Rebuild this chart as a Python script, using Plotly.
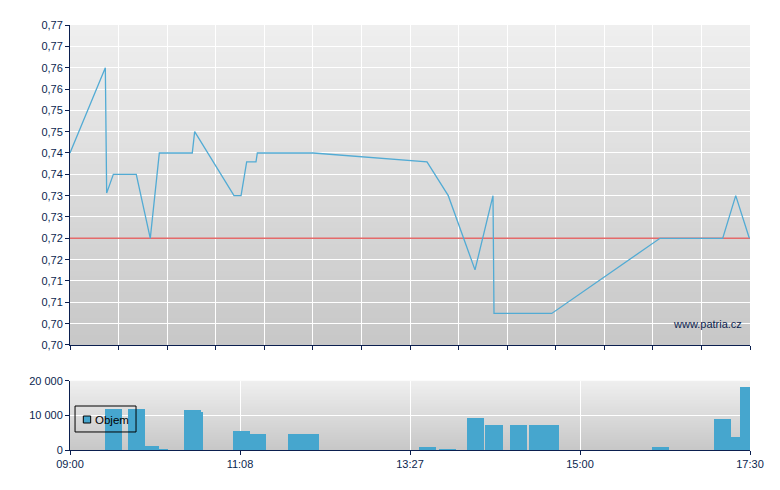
import plotly.graph_objects as go

# ---- data (x in session units: 0 = 09:00 ... 510 = 17:30 on the chart's scale) ----
price_x = [0, 26.5, 27.5, 32.5, 49.7, 60.2, 67, 91.7, 93.5, 123, 128.3, 132.5, 139.5,
           140.5, 182.5, 267.75, 283.7, 303.75, 317.25, 318, 361.3, 442.5, 489.5, 499.3, 509.5]
price_y = [0.745, 0.765, 0.7356, 0.740, 0.740, 0.725, 0.745, 0.745, 0.750, 0.735, 0.735,
           0.7429, 0.7429, 0.745, 0.745, 0.7429, 0.735, 0.7176, 0.735, 0.7074, 0.7074,
           0.725, 0.725, 0.735, 0.725]
prev_close = 0.725

vol_start = [26.25, 43.5, 56.25, 66.75, 85.5, 98.25, 122.25, 135, 163.5, 261.75, 276.75,
             297.75, 311.25, 330, 344.25, 436.5, 483, 495.75, 502.5]
vol_end = [39, 56.25, 66.75, 73.5, 98.25, 99.75, 135, 147, 186.75, 274.5, 289.5,
           310.5, 324.75, 342.75, 366.75, 449.25, 495.75, 502.5, 510]
vol_val = [11800, 11800, 1150, 300, 11500, 11200, 5500, 4600, 4600, 900, 300,
           9200, 7200, 7200, 7200, 900, 8900, 3750, 18200]

price_ticks = [0.700, 0.705, 0.710, 0.715, 0.720, 0.725, 0.730, 0.735, 0.740, 0.745,
               0.750, 0.755, 0.760, 0.765, 0.770, 0.775]
price_labels = ["0,70", "0,70", "0,71", "0,71", "0,72", "0,72", "0,73", "0,73", "0,74",
                "0,74", "0,75", "0,75", "0,76", "0,76", "0,77", "0,77"]
time_ticks = [0, 127.5, 255, 382.5, 510]
time_labels = ["09:00", "11:08", "13:27", "15:00", "17:30"]
vol_ticks = [0, 10000, 20000]
vol_labels = ["0", "10 000", "20 000"]
X_MAX = 510

NAVY = "#0b1f4f"
FONT = "Liberation Sans, Arial, sans-serif"

fig = go.Figure()

fig.add_trace(go.Scatter(x=[0, X_MAX], y=[prev_close, prev_close], mode="lines",
                         line=dict(color="#e46a6a", width=1.6), hoverinfo="skip",
                         showlegend=False, xaxis="x", yaxis="y"))
fig.add_trace(go.Scatter(x=price_x, y=price_y, mode="lines",
                         line=dict(color="#52abd4", width=1.3), showlegend=False,
                         xaxis="x", yaxis="y"))

centers = [(s + e) / 2 for s, e in zip(vol_start, vol_end)]
widths = [e - s for s, e in zip(vol_start, vol_end)]
fig.add_trace(go.Bar(x=centers, y=vol_val, width=widths, marker=dict(color="#46a6ce", line=dict(width=0)),
                     name="Objem", showlegend=False, xaxis="x2", yaxis="y2"))

# gradient backgrounds (each band runs to the bottom, so later bands cover seams)
shapes = []
N = 60
c_top, c_bot = 239, 199
for ax in ("", "2"):
    for i in range(N):
        f = (i + 0.5) / N
        c = round(c_top + (c_bot - c_top) * f)
        shapes.append(dict(type="rect", xref=f"x{ax} domain", yref=f"y{ax} domain",
                           x0=0, x1=1, y0=1 - i / N, y1=0,
                           fillcolor=f"rgb({c},{c},{c})", line=dict(width=0), layer="below"))

# legend box (manual)
shapes.append(dict(type="rect", xref="paper", yref="paper", x0=0.0074, x1=0.0971,
                   y0=0.0424, y1=0.1035, line=dict(color="black", width=1),
                   fillcolor="rgba(0,0,0,0)", layer="above"))
shapes.append(dict(type="rect", xref="paper", yref="paper", x0=0.0196, x1=0.0304,
                   y0=0.0635, y1=0.080, line=dict(color="black", width=1),
                   fillcolor="#46a6ce", layer="above"))

common = dict(ticks="outside", ticklen=4, tickcolor=NAVY, showgrid=True, gridcolor="white",
              gridwidth=1, showline=True, linecolor=NAVY, linewidth=1, zeroline=False,
              automargin=False)

fig.update_layout(
    width=764, height=472,
    margin=dict(l=62, r=22, t=17, b=30, autoexpand=False),
    paper_bgcolor="white", plot_bgcolor="rgba(0,0,0,0)",
    font=dict(family=FONT, size=11, color=NAVY),
    separators=", ",
    showlegend=False,
    bargap=0,
    shapes=shapes,
    xaxis=dict(domain=[0, 1], anchor="y", range=[0, X_MAX], tick0=0, dtick=X_MAX / 14,
               showticklabels=False, **common),
    yaxis=dict(domain=[0.2471, 1], anchor="x", range=[0.700, 0.775], tickmode="array",
               tickvals=price_ticks, ticktext=price_labels, **common),
    xaxis2=dict(domain=[0, 1], anchor="y2", range=[0, X_MAX], tickmode="array",
                tickvals=time_ticks, ticktext=time_labels, **common),
    yaxis2=dict(domain=[0, 0.1631], anchor="x2", range=[0, 20000], tickmode="array",
                tickvals=vol_ticks, ticktext=vol_labels, **common),
    annotations=[
        dict(text="Objem", xref="paper", yref="paper", x=0.0345, y=0.0715,
             xanchor="left", yanchor="middle", showarrow=False,
             font=dict(family=FONT, size=11.5, color="black")),
        dict(text="www.patria.cz", xref="paper", yref="paper", x=0.991, y=0.2965,
             xanchor="right", yanchor="middle", showarrow=False,
             font=dict(family=FONT, size=11, color=NAVY)),
    ],
)

fig.write_html("out.html")
